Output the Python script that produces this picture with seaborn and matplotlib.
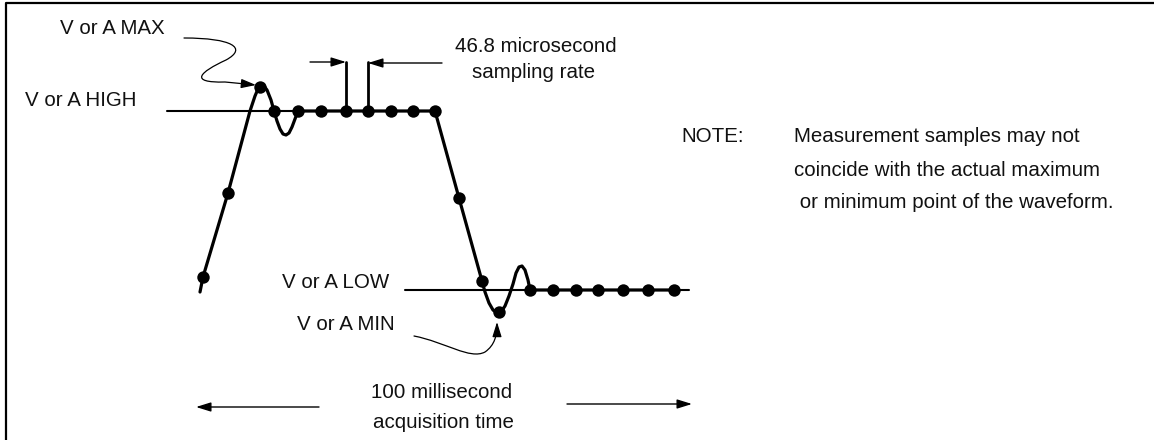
import numpy as np
import pandas as pd
import seaborn as sns
import matplotlib.pyplot as plt
from matplotlib.path import Path
from matplotlib.patches import FancyArrowPatch

# waveform trace (canvas pixels, y grows downward)
wave_x = [200, 203, 228, 250, 255, 258, 261, 264, 267, 271, 274, 277, 280, 283, 286,
          289, 292, 295, 298, 435, 459, 482, 485, 489, 493, 497, 501, 505, 509, 513,
          516, 519, 522, 525, 528, 530, 674]
wave_y = [292, 277, 193, 111, 96, 89, 86, 86, 90, 100, 111, 121, 129, 134, 135,
          133, 127, 119, 111, 111, 198, 281, 292, 303, 310, 313, 312, 306, 296, 284,
          273, 267, 266, 270, 280, 290, 290]

# measurement samples (dots)
sample_x = [203, 228, 260, 274, 298, 321, 346, 368, 391, 413, 435, 459, 482, 499,
            530, 553, 576, 598, 623, 648, 674]
sample_y = [277, 193, 87, 111, 111, 111, 111, 111, 111, 111, 111, 198, 281, 312,
            290, 290, 290, 290, 290, 290, 290]

high_level = 111
high_span = [167, 435]
low_level = 290
low_span = [405, 689]

note_lines = ["Measurement samples may not",
              "coincide with the actual maximum",
              " or minimum point of the waveform."]

sns.set_theme(style="white")
plt.rcParams['font.family'] = ['Liberation Sans', 'DejaVu Sans']

fig = plt.figure(figsize=(11.54, 4.4), dpi=100)
ax = fig.add_axes([0, 0, 1, 1])
ax.set_xlim(0, 1154)
ax.set_ylim(440, 0)
ax.axis('off')

# frame (only top and left edges survive the crop)
ax.plot([6, 6, 1160], [445, 3, 3], color='black', lw=1.6, solid_capstyle='butt')

# reference levels
sns.lineplot(x=high_span, y=[high_level] * 2, color='black', lw=1.5, ax=ax)
sns.lineplot(x=low_span, y=[low_level] * 2, color='black', lw=1.5, ax=ax)

# waveform + samples
wave = pd.DataFrame({'x': wave_x, 'y': wave_y})
sns.lineplot(data=wave, x='x', y='y', sort=False, estimator=None, color='black',
             lw=2.3, ax=ax)
ax.lines[-1].set_solid_joinstyle('round')
sns.scatterplot(x=sample_x, y=sample_y, s=80, color='black', edgecolor='black',
                linewidth=0, zorder=4, ax=ax)

fs = 14.8
txt = dict(fontsize=fs, color='#111111')
ax.text(60, 28, "V or A MAX", ha='left', va='center', **txt)
ax.text(25, 100, "V or A HIGH", ha='left', va='center', **txt)
ax.text(389, 283, "V or A LOW", ha='right', va='center', **txt)
ax.text(395, 324, "V or A MIN", ha='right', va='center', **txt)
ax.text(536, 47, "46.8 microsecond", ha='center', va='center', **txt)
ax.text(533, 72, "sampling rate", ha='center', va='center', **txt)
ax.text(442, 392, "100 millisecond", ha='center', va='center', **txt)
ax.text(443, 422, "acquisition time", ha='center', va='center', **txt)
ax.text(681, 137, "NOTE:", ha='left', va='center', **txt)
for i, line in enumerate(note_lines):
    ax.text(794, 137 + 33 * i, line, ha='left', va='center', **txt)

# sampling-interval markers
ax.plot([346, 346], [62, 111], color='black', lw=2)
ax.plot([368, 368], [62, 111], color='black', lw=2)

head = '-|>,head_length=0.9,head_width=0.28'


def arrow(tail, tip):
    ax.annotate('', xy=tip, xytext=tail,
                arrowprops=dict(arrowstyle=head, color='black', lw=1,
                                shrinkA=0, shrinkB=0, mutation_scale=10))


arrow((310, 62), (346, 62))
arrow((442, 63), (368, 63))
arrow((319, 407), (196, 407))
arrow((567, 404), (692, 404))

# curly pointers to the extremes
max_path = Path([(184, 38), (232, 38), (248, 48), (226, 60),
                 (200, 72), (188, 83), (225, 82), (256, 85)],
                [Path.MOVETO, Path.CURVE4, Path.CURVE4, Path.CURVE4,
                 Path.CURVE4, Path.CURVE4, Path.CURVE4, Path.LINETO])
ax.add_patch(FancyArrowPatch(path=max_path, arrowstyle=head, color='black',
                             lw=0.9, mutation_scale=10))
min_path = Path([(414, 336), (445, 342), (470, 360), (485, 352),
                 (495, 345), (497, 335), (497, 322)],
                [Path.MOVETO, Path.CURVE4, Path.CURVE4, Path.CURVE4,
                 Path.CURVE4, Path.CURVE4, Path.CURVE4])
ax.add_patch(FancyArrowPatch(path=min_path, arrowstyle=head, color='black',
                             lw=0.9, mutation_scale=10))

fig.savefig('out.png', dpi=100)
